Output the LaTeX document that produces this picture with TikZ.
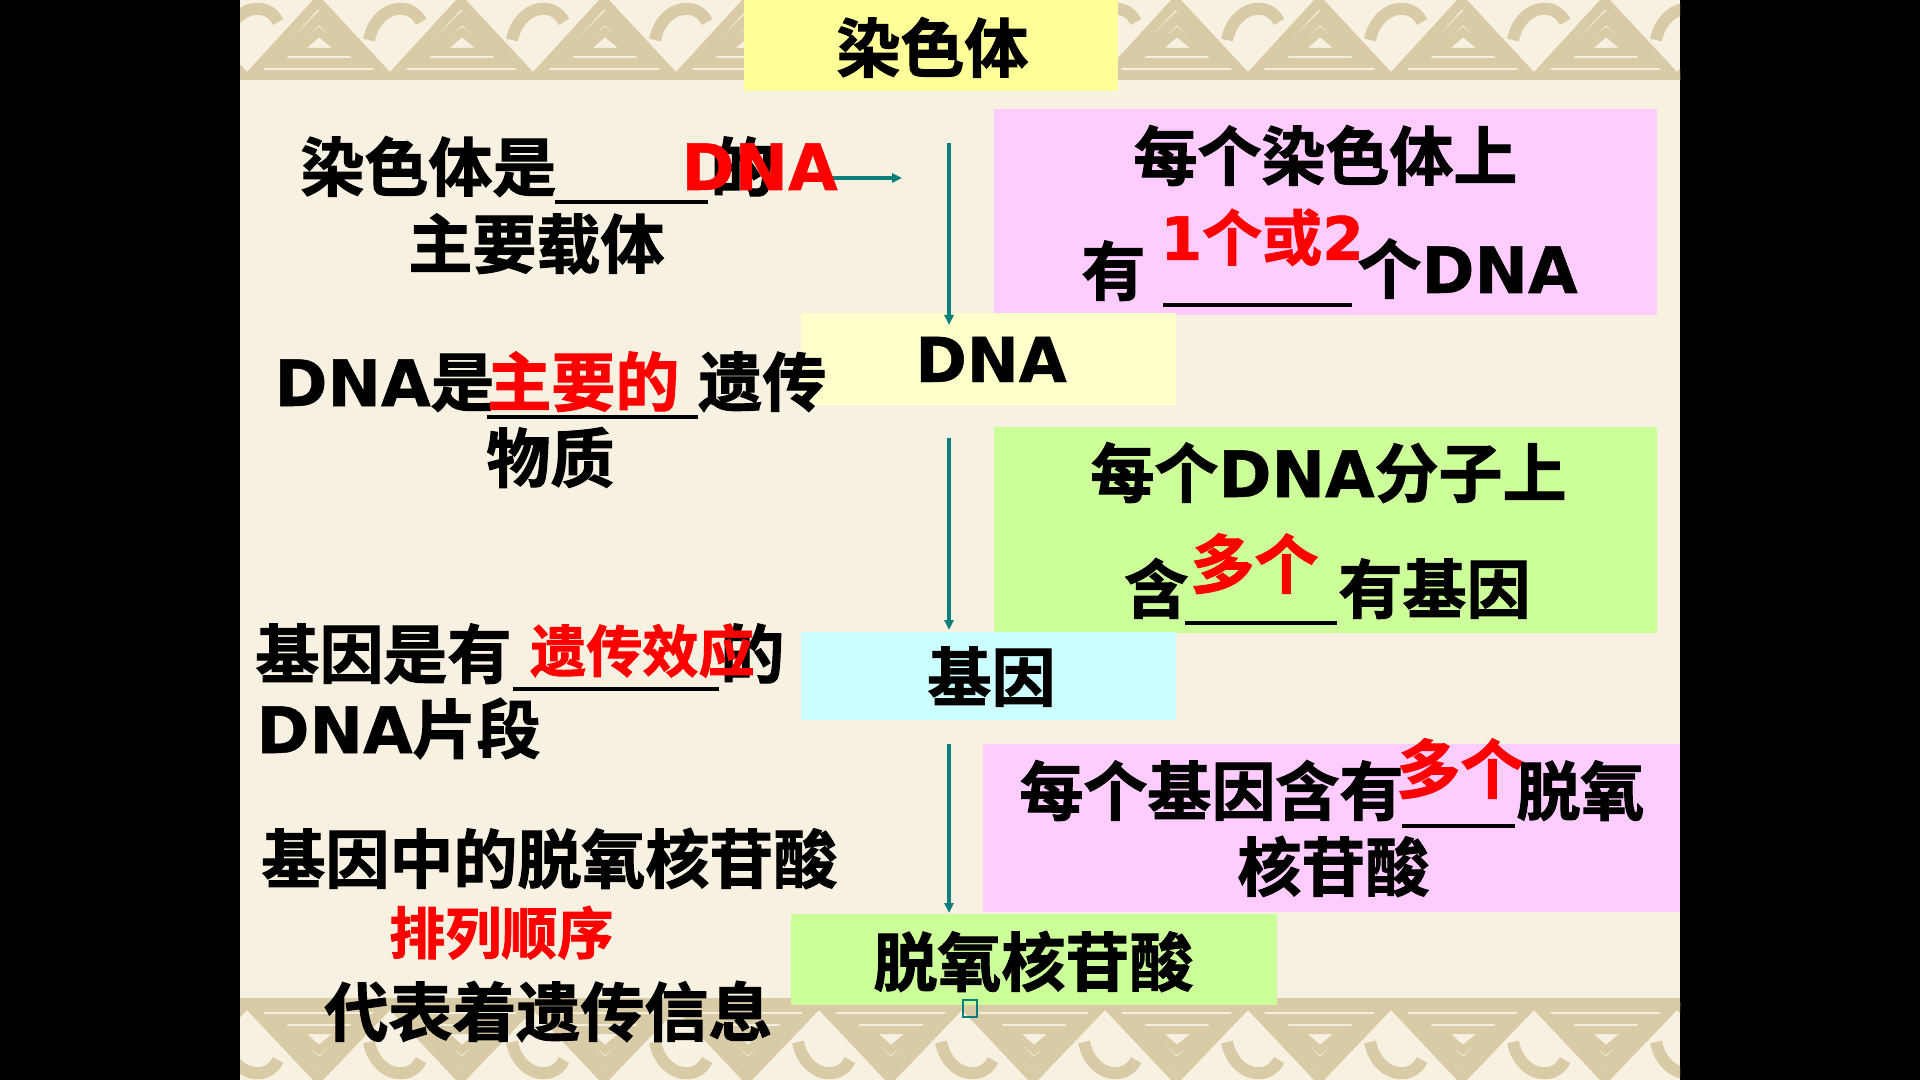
\documentclass[tikz,border=0pt]{standalone}
\usepackage{fontspec}
\newfontfamily\cjk{Noto Sans CJK SC}[BoldFont={Noto Sans CJK SC Bold},BoldFeatures={FakeBold=1.6}]
\newfontfamily\lat{DejaVu Sans}[BoldFont={DejaVu Sans Bold},BoldFeatures={FakeBold=0.8}]
\newcommand\La[1]{{\lat\bfseries #1}}
\usetikzlibrary{arrows.meta}
\definecolor{bgc}{HTML}{F7F1E2}
\definecolor{tanc}{HTML}{D9CBA6}
\definecolor{ylw}{HTML}{FFFF99}
\definecolor{lylw}{HTML}{FFFFCC}
\definecolor{pnk}{HTML}{FFCCFF}
\definecolor{grn}{HTML}{CCFF99}
\definecolor{cyn}{HTML}{CCFFFF}
\definecolor{tl}{HTML}{0A7F7B}
\tikzset{
  txt/.style={anchor=base west, inner sep=0pt, font=\cjk\bfseries\fontsize{32}{36}\selectfont},
  redtxt/.style={txt, text={rgb,255:red,255;green,0;blue,0}},
  smallred/.style={redtxt, font=\cjk\bfseries\fontsize{28}{32}\selectfont},
  ul/.style={line width=2pt, black},
  arr/.style={draw=tl, line width=1.8pt, -{Triangle[length=5pt,width=4.5pt]}},
  deco/.style={draw=tanc, line width=5pt, line join=miter},
}
\begin{document}
\begin{tikzpicture}[x=0.5pt,y=-0.5pt]
\useasboundingbox (0,0) rectangle (1920,1080);
\fill[black] (0,0) rectangle (1920,1080);
\fill[bgc] (240,0) rectangle (1680,1080);
% decorative bands
\begin{scope}
\clip (240,0) rectangle (1680,1080);
\foreach \i in {-1,...,10} {
  \pgfmathsetmacro\xx{251+143*\i}
  \draw[deco] (\xx,75) -- (\xx+67,2) -- (\xx+135,75) -- cycle;
  \draw[deco] (\xx+23,63) -- (\xx+68,18) -- (\xx+113,63) -- cycle;
  \draw[deco, line width=4pt] (\xx+45,52) -- (\xx+68,32) -- (\xx+92,52) -- cycle;
  \draw[deco, line width=6pt] (\xx+118,40) .. controls (\xx+125,5) and (\xx+160,0) .. (\xx+170,22);
  \draw[deco] (\xx,1007) -- (\xx+67,1078) -- (\xx+135,1007) -- cycle;
  \draw[deco] (\xx+23,1019) -- (\xx+68,1064) -- (\xx+113,1019) -- cycle;
  \draw[deco, line width=4pt] (\xx+45,1030) -- (\xx+68,1050) -- (\xx+92,1030) -- cycle;
  \draw[deco, line width=6pt] (\xx+118,1042) .. controls (\xx+125,1077) and (\xx+160,1082) .. (\xx+170,1060);
}
\draw[deco] (240,1003) -- (1680,1003);
\end{scope}
% boxes
\fill[ylw] (744,0) rectangle (1118,91);
\fill[pnk] (994,109) rectangle (1657,315);
\fill[lylw] (801,313) rectangle (1176,405);
\fill[grn] (994,427) rectangle (1657,633);
\fill[cyn] (801,632) rectangle (1176,720);
\fill[pnk] (983,744) rectangle (1680,912);
\fill[grn] (791,914) rectangle (1277,1005);
% arrows
\coordinate (h1s) at (830,178);
\coordinate (h1e) at (902,178);
\coordinate (v1s) at (949,143);
\coordinate (v1e) at (949,325);
\coordinate (v2s) at (949,438);
\coordinate (v2e) at (949,630);
\coordinate (v3s) at (949,744);
\coordinate (v3e) at (949,913);
\draw[arr] (h1s) -- (h1e);
\draw[arr] (v1s) -- (v1e);
\draw[arr] (v2s) -- (v2e);
\draw[arr] (v3s) -- (v3e);
\draw[tl, line width=0.8pt] (963,1000) rectangle (977,1017);
% right column texts
\node[txt] (t1) at (836,72) {染色体};
\node[txt] (p1a) at (1133,180) {每个染色体上};
\node[txt] (p1b) at (1081,295) {有};
\node[txt] (p1c) at (1357,293) {个\La{DNA}};
\node[redtxt, font=\cjk\bfseries\fontsize{30}{34}\selectfont] (p1r) at (1160,260) {\La{1}个或\La{2}};
\node[txt, font=\lat\bfseries\fontsize{31}{36}\selectfont] (dna) at (915,382) {DNA};
\node[txt] (g1a) at (1090,497) {每个\La{DNA}分子上};
\node[txt] (g1b) at (1124,613) {含};
\node[redtxt] (g1r) at (1190,588) {多个};
\node[txt] (g1c) at (1338,613) {有基因};
\node[txt] (jy) at (927,701) {基因};
\node[txt] (p2a) at (1019,815) {每个基因含有};
\node[redtxt] (p2r) at (1396,793) {多个};
\node[txt] (p2c) at (1516,815) {脱氧};
\node[txt] (p2d) at (1237,891) {核苷酸};
\node[txt] (tx) at (873,986) {脱氧核苷酸};
% left column texts
\node[txt] (l1a) at (300,191) {染色体是};
\node[txt] (l1b) at (710,191) {的};
\node[redtxt, font=\lat\bfseries\fontsize{32}{36}\selectfont] (l1r) at (681,190) {DNA};
\node[txt] (l1c) at (408,268) {主要载体};
\node[txt] (l2a) at (274,406) {\La{DNA}是};
\node[redtxt] (l2r) at (487,406) {主要的};
\node[txt] (l2b) at (698,406) {遗传};
\node[txt] (l2c) at (486,482) {物质};
\node[txt] (l3a) at (255,678) {基因是有};
\node[txt] (l3b) at (720,678) {的};
\node[smallred] (l3r) at (530,672) {遗传效应};
\node[txt] (l3c) at (256,753) {\La{DNA}片段};
\node[txt] (l4a) at (261,883) {基因中的脱氧核苷酸};
\node[smallred] (l4r) at (389,954) {排列顺序};
\node[txt] (l4b) at (324,1036) {代表着遗传信息};
% underlines
\draw[ul] (555,202) -- (708,202);
\draw[ul] (487,417) -- (698,417);
\draw[ul] (513,689) -- (719,689);
\draw[ul] (1163,305) -- (1352,305);
\draw[ul] (1185,623) -- (1337,623);
\draw[ul] (1402,826) -- (1515,826);
\end{tikzpicture}
\end{document}
